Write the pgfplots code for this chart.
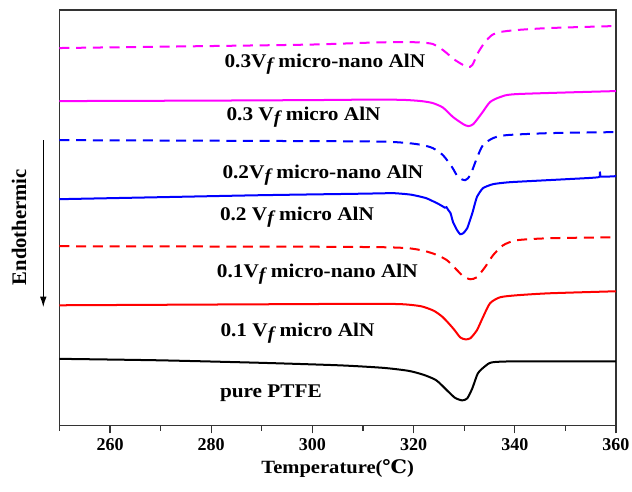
\documentclass[border=0pt]{standalone}
\usepackage{graphicx}
\usepackage{fontspec}
\setmainfont{Liberation Serif}
\newfontfamily\djv{DejaVu Serif}
\usepackage{pgfplots}
\pgfplotsset{compat=1.18}
\usetikzlibrary{calc,arrows.meta}
\definecolor{axgray}{HTML}{333333}
\definecolor{mag}{RGB}{255,0,255}
\definecolor{blu}{RGB}{0,0,255}
\definecolor{rd}{RGB}{255,0,0}
\newcommand{\Vf}{V\raisebox{-0.4ex}{\fontsize{13.5}{14}\selectfont\itshape f}}
\newcommand{\lbl}[1]{\scalebox{1.1}[1]{#1}}
\tikzset{label node/.style={anchor=base west, font=\bfseries\fontsize{14.5}{16}\selectfont}}

\begin{document}
\begin{tikzpicture}
\begin{axis}[
  name=ax, scale only axis, width=417pt, height=311.25pt,
  xmin=250, xmax=360, ymin=-425, ymax=-10,
  xtick={260,280,...,360}, minor xtick={250,270,...,350}, ytick=\empty,
  xtick pos=bottom, tick align=outside,
  major tick length=6pt, minor tick length=4pt,
  axis line style={axgray, line width=0.9pt},
  tick style={axgray, line width=0.9pt},
  /pgf/number format/assume math mode=true,
  /pgf/number format/1000 sep={},
  tick label style={font=\bfseries\fontsize{13.5}{15}\selectfont},
  xlabel={\lbl{Temperature({\djv ℃})}},
  xlabel style={font=\bfseries\fontsize{14}{16}\selectfont},
  clip=false,
  every axis plot/.append style={line width=1.5pt, smooth, tension=0.4},
]

% 0.3 Vf micro-nano (dashed magenta)
\addplot[mag, dash pattern=on 7.5pt off 5pt] coordinates {
  (250,-48)(280,-46)(300,-44.5)(312,-42.5)(318,-42)(321.5,-42.5)(323.8,-44)
  (325.8,-50)(328.2,-60)(330.6,-67)(331.6,-65)(332.7,-53)(334.1,-42)
  (335.5,-35)(337.1,-32)(340.4,-30)(346.9,-28)(360,-26)};

% 0.3 Vf micro (solid magenta)
\addplot[mag] coordinates {
  (250,-101)(280,-100.5)(300,-100)(312,-99.5)(318,-99.8)(321.5,-101)
  (323.8,-103)(325.8,-107.5)(327.8,-117)(329.8,-124)(330.8,-126)(331.8,-124)
  (333.5,-113)(335.1,-102)(337.1,-97)(340.4,-94)(360,-91)};

% 0.2 Vf micro-nano (dashed blue)
\addplot[blu, dash pattern=on 7.5pt off 5pt] coordinates {
  (250,-140)(300,-141)(314,-141.5)(319,-143)(321.8,-145)(323.8,-148)
  (325.8,-155)(327.6,-167)(328.8,-177)(330.2,-180)(331.2,-175)(332.5,-158)
  (333.7,-145)(335.7,-138)(338.4,-135)(346.9,-133)(360,-132)};

% 0.2 Vf micro (solid blue)
\addplot[blu, tension=0.3] coordinates {
  (250,-199)(270,-197)(290,-195)(310,-193.5)(316,-193)(319.5,-194.5)
  (322.5,-198)(325,-204)(326.2,-207.5)(326.5,-207)(326.8,-209.5)(327.3,-213)
  (327.8,-222)(328.6,-230)(329.2,-234)(329.8,-233)(330.6,-228)(331.6,-213)
  (332.5,-197)(333.7,-188)(335.7,-184)(339.1,-182)(350.3,-179)(356.6,-177)
  (356.8,-171.5)(357.0,-176.5)(360,-176)};

% 0.1 Vf micro-nano (dashed red)
\addplot[rd, dash pattern=on 7.5pt off 5pt] coordinates {
  (250,-246)(300,-246.5)(314,-247)(319,-248)(322,-250.5)(324.5,-254.5)
  (326.6,-260)(328.6,-270)(329.8,-276)(331.2,-279)(332.5,-277)(334.1,-267)
  (335.7,-255)(337.7,-245)(340.4,-240)(346.9,-238)(360,-237)};

% 0.1 Vf micro (solid red)
\addplot[rd] coordinates {
  (250,-305)(290,-304)(312,-303.5)(318,-304)(321.5,-306)(324,-310.5)
  (325.8,-317)(327.8,-328)(329.2,-337)(330.2,-339)(331.2,-338)(332.5,-330)
  (333.7,-317)(335.1,-303)(337.1,-297)(340.4,-295)(346.9,-293)(360,-291)};

% pure PTFE (black)
\addplot[black] coordinates {
  (250,-358.5)(270,-360)(290,-362.5)(305.4,-365)(314,-367.5)(319,-370.5)
  (322,-374.5)(324.5,-380)(326.8,-391)(328.2,-397.5)(329.6,-400)(330.6,-398)
  (331.6,-388)(332.7,-373)(334.1,-366)(335.5,-362)(340.4,-361)(360,-361)};

\node[label node] at (axis cs:281.7,-67) {\lbl{0.3\Vf{} micro-nano AlN}};
\node[label node] at (axis cs:282.1,-120) {\lbl{0.3 \Vf{} micro AlN}};
\node[label node] at (axis cs:281.3,-178) {\lbl{0.2\Vf{} micro-nano AlN}};
\node[label node] at (axis cs:280.8,-220) {\lbl{0.2 \Vf{} micro AlN}};
\node[label node] at (axis cs:280.2,-277) {\lbl{0.1\Vf{} micro-nano AlN}};
\node[label node] at (axis cs:280.9,-336) {\lbl{0.1 \Vf{} micro AlN}};
\node[label node] at (axis cs:280.8,-397) {\lbl{pure PTFE}};

\node[rotate=90, font=\bfseries\fontsize{15.5}{17}\selectfont] at (axis cs:242.0,-227) {Endothermic};
\draw[-{Latex[length=8pt,width=5pt]}, line width=1pt, black] (axis cs:246.8,-140) -- (axis cs:246.8,-307);

\end{axis}
\pgfresetboundingbox
\path[use as bounding box] ($(ax.south west)+(-44.55pt,-49.5pt)$) rectangle ($(ax.north east)+(12pt,7.5pt)$);
\end{tikzpicture}
\end{document}
